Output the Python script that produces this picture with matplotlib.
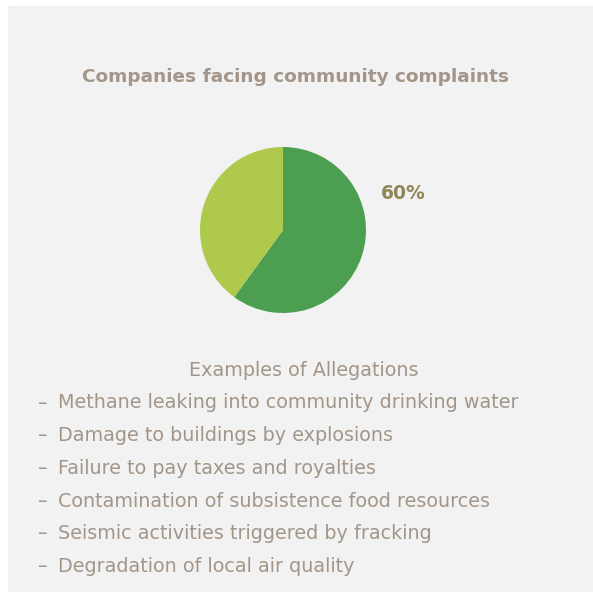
import matplotlib
matplotlib.use("Agg")
import matplotlib.pyplot as plt
from matplotlib.patches import Rectangle

title = "Companies facing community complaints"
shares = [60, 40]
pie_colors = ["#4c9e51", "#aec94b"]
share_label = "60%"
list_header = "Examples of Allegations"
allegations = [
    "Methane leaking into community drinking water",
    "Damage to buildings by explosions",
    "Failure to pay taxes and royalties",
    "Contamination of subsistence food resources",
    "Seismic activities triggered by fracking",
    "Degradation of local air quality",
]

W, H = 593, 592
fig = plt.figure(figsize=(W / 100, H / 100), dpi=100)
fig.patch.set_facecolor("white")

# grey panel
fig.patches.append(Rectangle((8 / W, 0), 1 - 8 / W, 1 - 6 / H,
                             transform=fig.transFigure, color="#f2f2f2", zorder=-10))

text_col = "#a39689"

fig.text(295 / W, 1 - 77 / H, title, ha="center", va="center",
         fontsize=13.3, fontweight="bold", color=text_col)

# pie
cx, cy, r = 283, 230, 83
ax = fig.add_axes([(cx - r) / W, 1 - (cy + r) / H, 2 * r / W, 2 * r / H])
ax.pie(shares, colors=pie_colors, startangle=90, counterclock=False,
       wedgeprops=dict(linewidth=0))
ax.set_xlim(-1, 1)
ax.set_ylim(-1, 1)
ax.set_aspect("equal")
ax.axis("off")

fig.text(403 / W, 1 - 194 / H, share_label, ha="center", va="center",
         fontsize=13.5, fontweight="bold", color="#8f8656")

fig.text(304 / W, 1 - 370 / H, list_header, ha="center", va="center",
         fontsize=13.8, color=text_col)
for i, item in enumerate(allegations):
    y = 403 + i * 32.7
    fig.text(37 / W, 1 - y / H, "\u2013", ha="left", va="center",
             fontsize=13.8, color=text_col)
    fig.text(58 / W, 1 - y / H, item, ha="left", va="center",
             fontsize=13.8, color=text_col)

fig.savefig("out.png", dpi=100, facecolor=fig.get_facecolor())
